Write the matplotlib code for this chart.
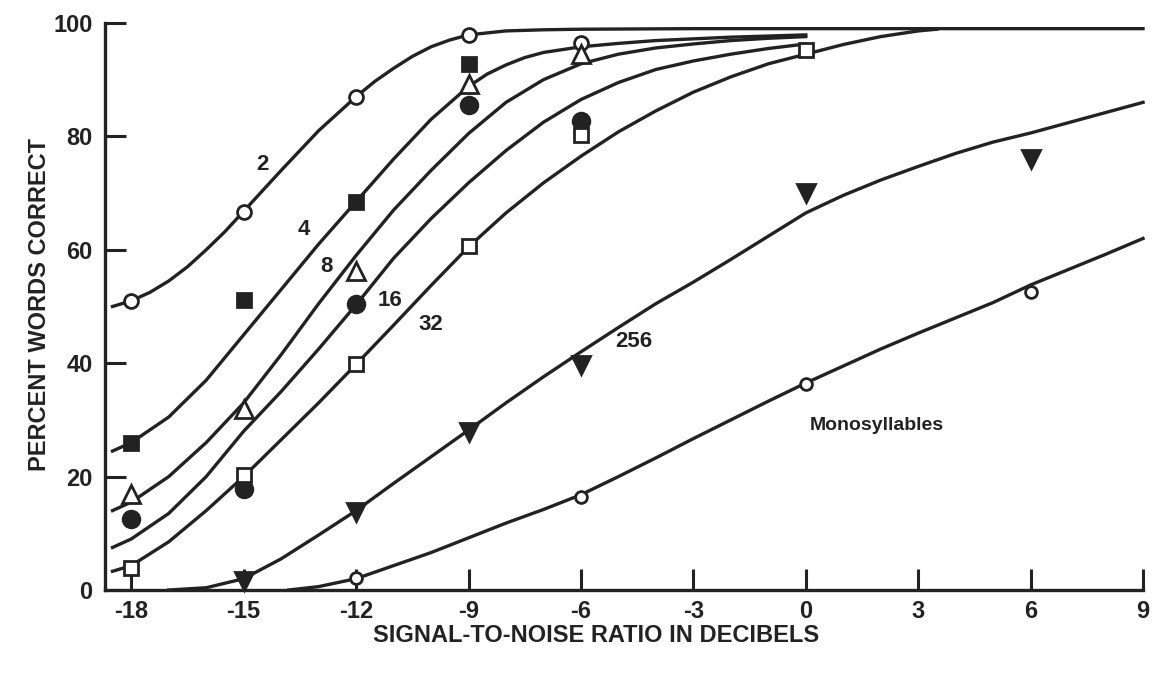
import matplotlib.pyplot as plt
import numpy as np

# measured points (dB, percent correct)
snr_2 = [-18, -15, -12, -9, -6]
pct_2 = [51, 66.7, 87, 97.9, 96.5]
snr_4 = [-18, -15, -12, -9]
pct_4 = [26, 51.2, 68.5, 92.7]
snr_8 = [-18, -15, -12, -9, -6]
pct_8 = [17, 32, 56.2, 89.3, 94.6]
snr_16 = [-18, -15, -12, -9, -6]
pct_16 = [12.5, 17.8, 50.5, 85.5, 82.7]
snr_32 = [-18, -15, -12, -9, -6, 0]
pct_32 = [3.9, 20.2, 39.8, 60.6, 80.2, 95.2]
snr_256 = [-15, -12, -9, -6, 0, 6]
pct_256 = [1.6, 13.8, 27.9, 39.6, 70, 76]
snr_mono = [-12, -6, 0, 6]
pct_mono = [2.1, 16.4, 36.4, 52.6]

# fitted curves
cx_2 = [-18.5, -18, -17.5, -17, -16.5, -16, -15.5, -15, -14, -13, -12, -11.5, -11, -10.5, -10, -9.5, -9, -8, -7, -6, -3, 0, 3, 9]
cy_2 = [50, 51, 52.5, 54.5, 57, 60, 63.2, 66.8, 74, 81, 87, 89.7, 92, 94.1, 95.8, 97, 97.9, 98.6, 98.8, 98.9, 99, 99, 99, 99]
cx_4 = [-18.5, -18, -17, -16, -15, -14, -13, -12, -11, -10, -9, -8.5, -8, -7.5, -7, -6, -5, -4, -3, -2, -1, 0]
cy_4 = [24.5, 26, 30.5, 37, 45, 53, 61, 68.5, 76, 83, 88.8, 91, 92.6, 93.9, 94.8, 95.8, 96.4, 96.9, 97.2, 97.5, 97.7, 97.9]
cx_8 = [-18.5, -18, -17, -16, -15, -14, -13, -12, -11, -10, -9, -8, -7, -6, -5, -4, -3, -2, -1, 0]
cy_8 = [14, 15.5, 20, 26, 33, 41.5, 50.5, 59, 67, 74, 80.5, 86, 90, 92.8, 94.5, 95.6, 96.3, 96.9, 97.3, 97.6]
cx_16 = [-18.5, -18, -17, -16, -15, -14, -13, -12, -11, -10, -9, -8, -7, -6, -5, -4, -3, -2, -1, 0]
cy_16 = [7.5, 9, 13.5, 20, 28, 35, 42.5, 50.3, 58.5, 65.5, 71.8, 77.5, 82.5, 86.5, 89.5, 91.8, 93.3, 94.5, 95.5, 96.3]
cx_32 = [-18.5, -18, -17, -16, -15, -14, -13, -12, -11, -10, -9, -8, -7, -6, -5, -4, -3, -2, -1, 0, 1, 2, 3, 3.5]
cy_32 = [3.3, 4.3, 8.5, 14, 20, 26.5, 33, 39.8, 46.7, 53.7, 60.5, 66.5, 71.8, 76.5, 80.8, 84.5, 87.8, 90.5, 92.8, 94.5, 96.2, 97.6, 98.6, 98.9]
cx_256 = [-17, -16, -15, -14, -13, -12, -11, -10, -9, -8, -7, -6, -5, -4, -3, -2, -1, 0, 1, 2, 3, 4, 5, 6, 7, 8, 9]
cy_256 = [0, 0.4, 2, 5.5, 9.7, 14, 18.8, 23.5, 28.2, 33, 37.6, 42, 46.3, 50.5, 54.3, 58.3, 62.4, 66.5, 69.6, 72.3, 74.7, 77, 79, 80.6, 82.4, 84.2, 86]
cx_mono = [-13.8, -13, -12, -11, -10, -9, -8, -7, -6, -5, -4, -3, -2, -1, 0, 1, 2, 3, 4, 5, 6, 7, 8, 9]
cy_mono = [0, 0.6, 2, 4.3, 6.6, 9.2, 11.8, 14.2, 16.8, 20, 23.3, 26.7, 30, 33.3, 36.5, 39.5, 42.5, 45.3, 48, 50.7, 53.8, 56.5, 59.2, 62]

x_ticks = [-18, -15, -12, -9, -6, -3, 0, 3, 6, 9]
y_ticks = [0, 20, 40, 60, 80, 100]

ink = '#222222'
plt.rcParams['font.family'] = ['Liberation Sans', 'DejaVu Sans']
plt.rcParams['axes.unicode_minus'] = False

fig = plt.figure(figsize=(11.54, 6.76), dpi=100)
ax = fig.add_axes([0.091, 0.1272, 0.8995, 0.8388])

for cx, cy in [(cx_2, cy_2), (cx_4, cy_4), (cx_8, cy_8), (cx_16, cy_16),
               (cx_32, cy_32), (cx_256, cy_256), (cx_mono, cy_mono)]:
    ax.plot(cx, cy, color=ink, lw=2.4, clip_on=False, zorder=2,
            solid_joinstyle='round')

mk = dict(linestyle='none', clip_on=False, zorder=3, markeredgecolor=ink, markeredgewidth=2)
ax.plot(snr_2, pct_2, marker='o', ms=10, mfc='white', **mk)
ax.plot(snr_4, pct_4, marker='s', ms=10, mfc=ink, **mk)
ax.plot(snr_8, pct_8, marker='^', ms=13, mfc='white', **mk)
ax.plot(snr_16, pct_16, marker='o', ms=12, mfc=ink, **mk)
ax.plot(snr_32, pct_32, marker='s', ms=10, mfc='white', **mk)
ax.plot(snr_256, pct_256, marker='v', ms=13, mfc=ink, **mk)
ax.plot(snr_mono, pct_mono, marker='o', ms=8.5, mfc='white', **mk)

lab = dict(fontsize=16, fontweight='bold', color=ink, ha='center', va='center')
ax.text(-14.5, 75.1, '2', **lab)
ax.text(-13.4, 63.5, '4', **lab)
ax.text(-12.8, 57, '8', **lab)
ax.text(-11.1, 51, '16', **lab)
ax.text(-10.0, 46.8, '32', **lab)
ax.text(-4.6, 43.8, '256', **lab)
ax.text(1.9, 29.1, 'Monosyllables', fontsize=14, fontweight='bold', color=ink,
        ha='center', va='center')

ax.set_xlim(-18.7, 9)
ax.set_ylim(0, 100)
ax.set_xticks(x_ticks)
ax.set_yticks(y_ticks)
ax.spines['top'].set_visible(False)
ax.spines['right'].set_visible(False)
for s in ['left', 'bottom']:
    ax.spines[s].set_linewidth(2.4)
    ax.spines[s].set_color(ink)
ax.tick_params(direction='in', length=15, width=2.2, color=ink, labelcolor=ink, labelsize=17)
ax.tick_params(axis='y', pad=9)
ax.tick_params(axis='x', pad=7)
for t in ax.get_xticklabels() + ax.get_yticklabels():
    t.set_fontweight('bold')

fig.text(596 / 1154, 1 - 636 / 676, 'SIGNAL-TO-NOISE RATIO IN DECIBELS', fontsize=17,
         fontweight='bold', color=ink, ha='center', va='center')
fig.text(40 / 1154, 1 - 305 / 676, 'PERCENT WORDS CORRECT', fontsize=17, rotation=90,
         fontweight='bold', color=ink, ha='center', va='center')

fig.savefig('out.png', dpi=100)
